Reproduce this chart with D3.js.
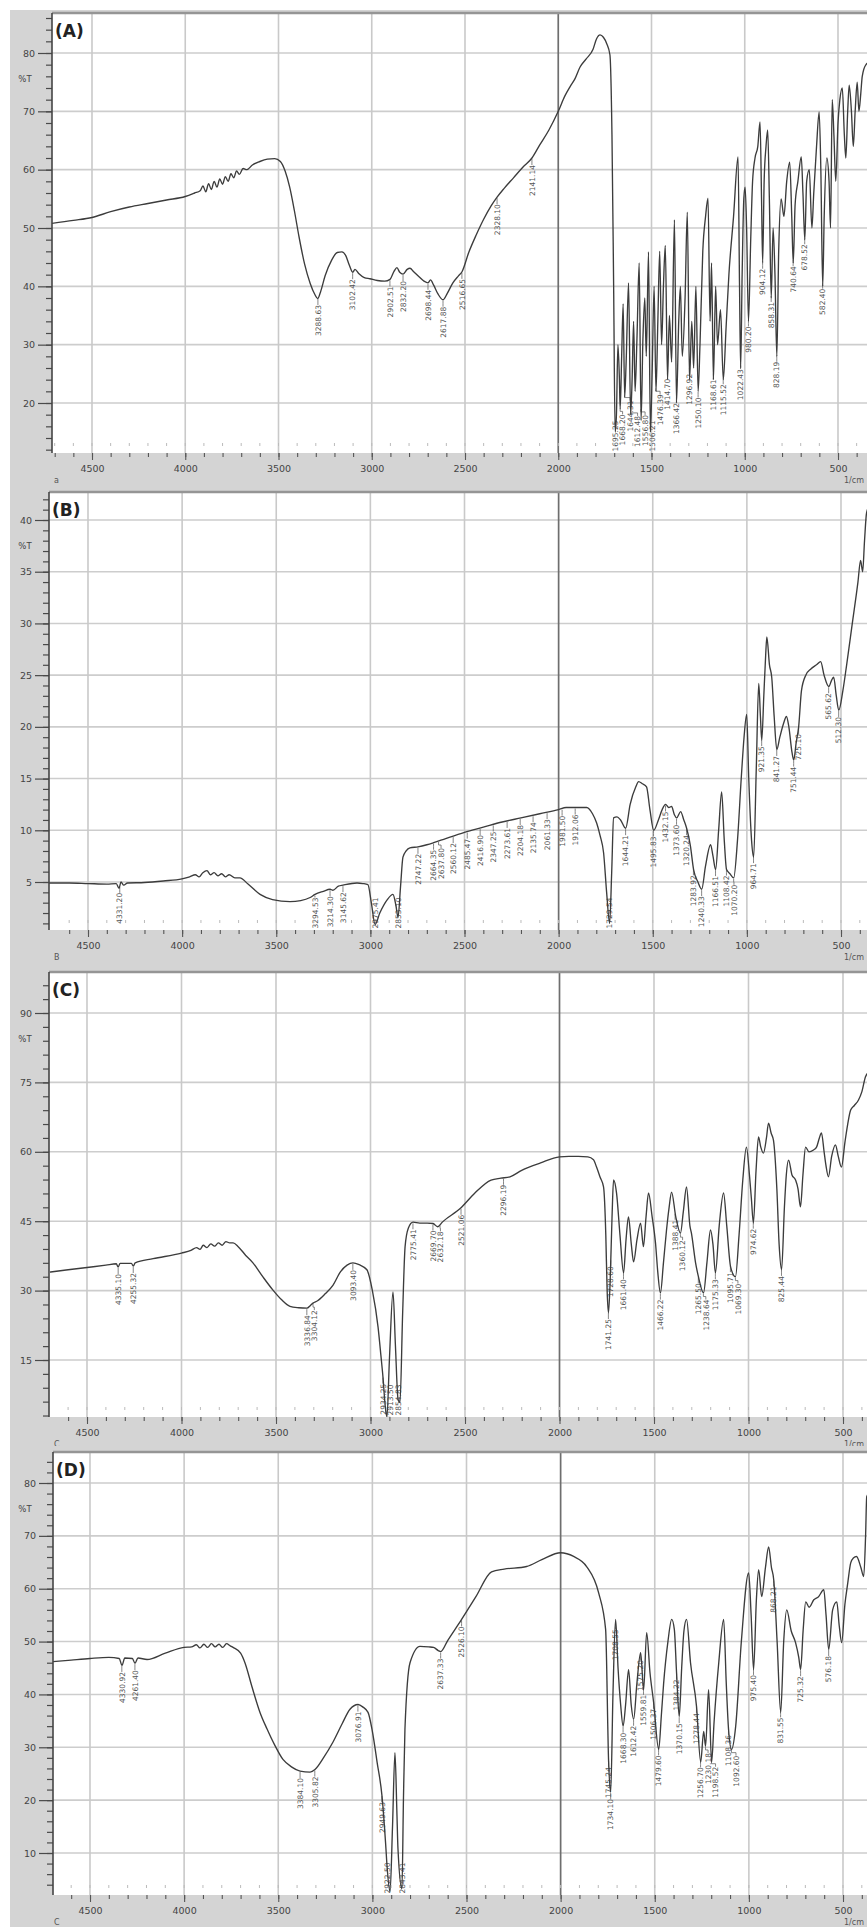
<!DOCTYPE html>
<html><head><meta charset="utf-8">
<script src="https://cdn.jsdelivr.net/npm/d3@7"></script>
<style>
body{margin:0;background:#fff}
svg{display:block}
text{font-family:"DejaVu Sans","Liberation Sans",Arial,sans-serif}
</style>
</head><body><div id="chart"></div>
<script>
// ---------------- DATA ----------------
const xTicks = [4500, 4000, 3500, 3000, 2500, 2000, 1500, 1000, 500];
const yTicksA = [20, 30, 40, 50, 60, 70, 80];
const yTicksB = [5, 10, 15, 20, 25, 30, 35, 40];
const yTicksC = [15, 30, 45, 60, 75, 90];
const yTicksD = [10, 20, 30, 40, 50, 60, 70, 80];
const panelNames = ["(A)", "(B)", "(C)", "(D)"];
const cornerLetters = ["a", "B", "C", "C"];
const unitLabel = "1/cm";
const yAxisTitle = "%T";

// spectra: [wavenumber (1/cm), %T]
const spectrumA = [
[4715,50.8],[4600,51.3],[4500,51.8],[4400,52.8],[4300,53.6],[4200,54.2],[4100,54.8],[4000,55.4],[3950,56.0],[3920,56.4],
[3905,57.2],[3890,56.2],[3875,57.6],[3860,56.6],[3845,58.0],[3830,57.0],[3815,58.4],[3800,57.5],[3785,58.8],[3770,58.0],
[3755,59.3],[3740,58.6],[3725,59.8],[3710,59.2],[3690,60.2],[3670,60.0],[3640,60.8],[3600,61.4],[3560,61.8],[3520,61.9],
[3490,61.4],[3465,59.8],[3440,57.0],[3415,53.0],[3390,48.5],[3360,43.8],[3330,40.5],[3305,38.6],[3290,37.9],[3275,39.0],
[3250,41.8],[3215,44.5],[3185,45.8],[3160,45.9],[3140,45.3],[3120,43.6],[3102,42.4],[3090,42.9],[3070,42.2],[3040,41.5],
[3010,41.3],[2970,41.0],[2930,40.9],[2902,41.2],[2880,42.6],[2865,43.2],[2850,42.4],[2832,42.1],[2810,42.9],[2795,43.1],
[2775,42.5],[2745,41.6],[2720,40.9],[2698,40.6],[2685,41.1],[2668,40.2],[2645,38.7],[2618,37.7],[2595,38.8],[2565,40.6],
[2535,41.8],[2516,42.5],[2480,45.8],[2440,48.8],[2400,51.5],[2360,53.8],[2328,55.3],[2290,56.8],[2240,58.6],[2190,60.4],
[2141,62.0],[2100,64.2],[2050,66.8],[2000,70.0],[1965,72.6],[1937,74.2],[1910,75.6],[1883,77.6],[1850,79.0],[1814,80.6],
[1795,82.4],[1776,83.1],[1758,82.7],[1740,81.6],[1723,79.7],[1712,66],[1703,40],[1695,15],[1688,18],[1680,30],
[1672,24],[1668,19],[1660,28],[1652,37],[1644,21],[1636,27],[1623,40.6],[1612,18],[1604,24],[1596,34],
[1588,22],[1578,31],[1566,44],[1556,17],[1546,31],[1536,38],[1528,28],[1516,45.9],[1506,15],[1496,26],
[1486,40],[1476,22],[1466,34],[1456,46],[1446,30],[1436,40],[1426,47],[1414,24],[1404,35],[1392,27],
[1377,51.4],[1366,20],[1354,34],[1345,40],[1335,28],[1320,38],[1308,52.7],[1296,24],[1284,34],[1274,26],
[1262,40],[1250,22],[1240,30],[1225,46],[1210,52],[1197,55.1],[1186,34],[1178,44],[1168,24],[1156,40],
[1146,30],[1130,36],[1115,24],[1100,33],[1085,42],[1060,52],[1036,62.2],[1028,40],[1022,26],[1014,42],
[1005,55],[998,57],[990,50],[980,34],[968,48],[958,58],[945,62],[930,64],[918,68.2],[910,55],
[904,44],[896,58],[886,64],[877,66.8],[868,55],[858,38],[848,50],[838,42],[828,28],[818,46],
[805,55],[790,52],[775,58],[759,61.3],[748,52],[740,44],[730,54],[715,58],[697,62.2],[688,56],
[678,48],[668,58],[654,60],[640,50],[630,56],[615,64],[601,69.9],[592,60],[582,40],[574,52],
[560,62],[548,58],[540,50],[531,72],[522,66],[512,58],[500,68],[490,72],[477,74],[466,66],
[458,62],[448,70],[440,74.5],[428,70],[418,64],[408,70],[397,75],[388,70],[378,73],[370,76],[350,78],[300,79]
];
const spectrumB = [
[4707,4.9],[4600,4.9],[4500,4.85],[4400,4.8],[4350,4.85],[4335,4.4],[4325,5.0],[4310,4.7],[4290,4.9],[4200,4.95],
[4100,5.1],[4001,5.3],[3960,5.5],[3930,5.7],[3910,5.5],[3890,5.9],[3868,6.1],[3850,5.7],[3830,5.9],[3810,5.6],
[3790,5.8],[3770,5.5],[3750,5.7],[3720,5.4],[3693,5.4],[3650,4.8],[3586,3.8],[3520,3.3],[3427,3.1],[3370,3.2],
[3320,3.5],[3294,3.8],[3250,4.1],[3214,4.3],[3199,4.2],[3170,4.6],[3145,4.7],[3071,4.9],[3040,4.85],[3013,4.75],
[2995,3.0],[2975,0.9],[2950,2.0],[2910,3.3],[2880,3.8],[2865,2.8],[2853,1.6],[2840,4.5],[2827,7.4],[2810,8.0],
[2790,8.3],[2747,8.4],[2700,8.6],[2664,8.8],[2600,9.2],[2500,9.8],[2400,10.3],[2300,10.8],[2200,11.2],[2100,11.6],
[2000,12.0],[1960,12.2],[1920,12.2],[1851,12.2],[1820,11.6],[1798,10.7],[1780,9.5],[1761,7.8],[1745,4.0],[1729,1.0],
[1718,6.0],[1708,11.2],[1690,11.3],[1671,11.0],[1644,10.2],[1620,12.5],[1590,14.2],[1575,14.7],[1555,14.5],[1533,14.2],
[1515,12.0],[1495,10.0],[1470,11.0],[1450,12.0],[1432,12.5],[1415,12.2],[1400,12.3],[1385,11.5],[1373,11.2],[1352,11.8],
[1335,11.0],[1320,10.2],[1300,8.5],[1283,6.2],[1260,5.0],[1240,4.3],[1220,6.5],[1193,8.6],[1180,7.5],[1166,6.2],
[1150,10.0],[1134,13.7],[1120,9.0],[1108,6.2],[1090,5.8],[1070,5.4],[1050,9.0],[1030,15.0],[1015,19.0],[1001,21.2],
[990,15.0],[975,9.0],[964,7.4],[950,16.0],[937,24.2],[928,21.0],[921,18.7],[910,23.0],[900,27.0],[894,28.7],
[880,26.0],[868,24.8],[855,21.0],[841,17.8],[825,19.0],[804,20.4],[790,21.0],[777,20.0],[760,17.5],[751,16.8],
[738,18.5],[725,20.0],[710,23.5],[687,25.0],[660,25.6],[630,26.0],[608,26.3],[590,25.0],[565,23.9],[550,24.5],
[539,24.8],[525,23.0],[512,21.6],[490,23.5],[470,26.0],[440,30.0],[410,34.0],[396,36.1],[385,35.0],[375,38.0],[364,40.7],[330,42]
];
const spectrumC = [
[4696,34.0],[4600,34.5],[4500,35.0],[4400,35.5],[4345,35.8],[4335,35.1],[4325,35.9],[4265,35.9],[4255,35.3],[4245,36.0],
[4150,36.9],[4000,38.1],[3950,38.7],[3920,39.3],[3902,38.9],[3885,39.8],[3865,39.3],[3845,40.1],[3825,39.6],[3805,40.3],
[3785,39.8],[3765,40.6],[3745,40.3],[3727,40.3],[3700,39.5],[3660,37.6],[3622,36.0],[3570,33.0],[3516,30.1],[3470,28.0],
[3426,26.6],[3380,26.3],[3336,26.2],[3318,26.8],[3304,27.3],[3280,27.8],[3240,29.3],[3198,31.2],[3160,34.0],[3124,35.5],
[3093,36.0],[3060,35.6],[3019,34.5],[2990,30.0],[2960,22.1],[2945,16.0],[2934,11.3],[2922,5.0],[2913,2.7],[2900,15.0],
[2881,29.7],[2868,18.0],[2854,6.4],[2844,5.8],[2830,25.0],[2817,39.5],[2800,43.5],[2775,44.8],[2740,44.6],[2700,44.6],
[2669,44.5],[2645,43.8],[2620,44.8],[2521,47.9],[2450,51.0],[2362,53.9],[2310,54.3],[2262,54.6],[2200,56.0],[2100,57.6],
[2000,58.9],[1950,59.0],[1900,59.0],[1850,58.9],[1820,58.3],[1804,56.7],[1785,54.5],[1767,52.4],[1755,42.0],[1748,30.0],
[1741,25.2],[1732,32.0],[1722,46.0],[1714,53.9],[1698,51.0],[1680,42.0],[1661,33.8],[1648,41.0],[1635,45.9],[1620,40.0],
[1608,36.2],[1590,41.0],[1571,44.6],[1556,39.5],[1542,46.0],[1529,51.1],[1510,46.0],[1492,40.3],[1480,34.0],[1466,29.5],
[1450,36.0],[1434,43.0],[1420,48.0],[1407,51.3],[1385,46.0],[1360,42.4],[1345,47.0],[1328,52.4],[1310,44.0],[1302,42.4],
[1280,36.0],[1265,33.0],[1238,29.5],[1220,36.0],[1201,43.1],[1188,40.0],[1175,33.8],[1155,44.0],[1132,51.1],[1115,44.0],
[1095,35.2],[1069,33.0],[1050,42.0],[1030,54.0],[1011,61.0],[995,55.0],[985,50.0],[974,44.6],[960,56.0],[947,63.2],
[935,61.0],[921,59.7],[905,63.0],[894,66.2],[880,64.0],[868,62.5],[850,52.0],[838,40.0],[825,34.5],[810,48.0],
[800,55.0],[788,58.2],[770,55.0],[751,53.9],[738,52.0],[725,48.1],[712,55.0],[698,61.0],[680,60.0],[656,60.4],
[640,61.0],[625,63.0],[614,64.1],[600,60.0],[590,57.0],[577,54.6],[560,59.0],[540,61.5],[525,59.0],[508,56.7],
[490,62.0],[475,66.0],[460,69.0],[440,70.0],[418,71.2],[400,73.0],[381,76.2],[370,77.0],[330,78]
];
const spectrumD = [
[4697,46.2],[4600,46.5],[4500,46.8],[4400,47.0],[4345,46.8],[4330,45.5],[4315,46.9],[4275,46.8],[4261,45.9],[4245,46.9],
[4197,46.6],[4100,47.8],[4001,48.9],[3960,49.0],[3935,49.4],[3916,48.8],[3895,49.5],[3875,48.9],[3855,49.6],[3835,49.0],
[3815,49.5],[3795,48.9],[3775,49.6],[3755,49.2],[3740,48.9],[3700,47.8],[3677,46.0],[3640,41.5],[3597,36.6],[3560,33.5],
[3520,30.5],[3475,27.7],[3430,26.3],[3384,25.5],[3331,25.3],[3305,25.8],[3260,28.0],[3209,31.0],[3160,34.5],[3119,37.2],
[3076,38.1],[3050,37.6],[3023,36.6],[3000,33.0],[2975,27.2],[2949,20.8],[2930,12.0],[2922,7.5],[2906,2.7],[2893,15.0],
[2880,29.0],[2870,18.0],[2864,10.8],[2843,3.2],[2835,20.0],[2827,33.4],[2800,46.0],[2747,49.1],[2700,49.0],[2675,48.9],
[2650,48.3],[2637,48.1],[2600,50.2],[2526,54.2],[2450,58.5],[2367,63.2],[2300,63.7],[2181,64.2],[2100,65.5],[2000,66.8],
[1931,66.1],[1862,64.2],[1798,59.2],[1761,52.3],[1745,27.2],[1734,21.5],[1722,40.0],[1708,54.2],[1695,45.0],[1681,38.0],
[1668,34.0],[1655,38.0],[1639,44.7],[1625,38.0],[1612,35.3],[1595,42.0],[1575,47.9],[1559,40.9],[1543,51.7],[1525,44.0],
[1506,38.5],[1479,29.6],[1465,36.0],[1453,42.0],[1430,50.0],[1410,54.2],[1396,52.3],[1384,44.0],[1370,35.8],[1357,45.0],
[1345,52.0],[1331,54.2],[1310,46.0],[1278,37.7],[1256,27.2],[1240,33.0],[1230,30.2],[1214,40.9],[1198,27.2],[1185,34.7],
[1160,46.0],[1134,54.2],[1120,42.0],[1108,33.4],[1092,29.6],[1070,34.0],[1040,50.0],[1001,63.0],[988,55.0],[975,44.7],
[960,58.0],[948,63.6],[932,58.5],[912,64.0],[895,67.9],[880,64.0],[868,61.7],[850,50.0],[831,36.6],[815,50.0],
[799,56.0],[775,52.0],[752,49.8],[735,47.0],[725,44.7],[712,52.0],[698,57.5],[680,56.5],[655,57.9],[630,58.5],
[602,59.8],[590,55.0],[576,48.5],[555,56.0],[533,57.5],[520,53.0],[507,49.8],[490,57.0],[475,61.0],[459,64.9],
[445,65.8],[428,66.1],[405,64.0],[390,62.3],[380,70.0],[374,77.4],[340,79]
];

// peak-pick labels (wavenumber, 1/cm)
const peaksA = [3288.63,3102.42,2902.51,2832.20,2698.44,2617.88,2516.65,2328.10,2141.14,1695.25,1668.20,1644.31,1612.48,1556.80,1506.21,1476.39,1414.70,1366.42,1296.92,1250.10,1168.61,1115.52,1022.43,980.20,904.12,858.31,828.19,740.64,678.52,582.40];
const peaksB = [4331.20,3294.53,3214.30,3145.62,2975.41,2853.10,2747.22,2664.35,2637.80,2560.12,2485.47,2416.90,2347.25,2273.61,2204.18,2135.74,2061.33,1981.50,1912.06,1729.54,1644.21,1495.83,1432.15,1373.60,1320.24,1283.92,1240.33,1166.51,1108.42,1070.20,964.71,921.35,841.27,751.44,725.10,565.62,512.30];
const peaksC = [4335.10,4255.32,3336.84,3304.12,3093.40,2934.25,2913.50,2854.83,2775.41,2669.70,2632.18,2521.06,2296.19,1741.25,1728.60,1661.40,1466.22,1388.41,1360.12,1265.50,1238.64,1175.33,1095.71,1069.30,974.62,825.44];
const peaksD = [4330.92,4261.40,3384.10,3305.82,3076.91,2949.63,2922.50,2843.41,2637.33,2526.10,1745.24,1734.10,1708.55,1668.30,1612.42,1575.20,1559.81,1506.37,1479.60,1384.22,1370.15,1278.44,1256.70,1230.18,1198.52,1108.36,1092.60,975.40,868.21,831.55,725.32,576.18];

// ---------------- LAYOUT ----------------
const W = 867, H = 1927;
const layouts = [
 {grayTop:10,  grayBottom:490,  top:13,   bottom:453,  left:52, x0:92, x1:838, yp:[403,53],   minor:2},
 {grayTop:490, grayBottom:966,  top:492,  bottom:930,  left:49, x0:88, x1:841, yp:[882,520],  minor:1},
 {grayTop:966, grayBottom:1446, top:972,  bottom:1417, left:49, x0:87, x1:843, yp:[1360,1013],minor:3},
 {grayTop:1446,grayBottom:1927, top:1452, bottom:1895, left:53, x0:90, x1:843, yp:[1853,1483],minor:2}
];
const spectra = [spectrumA, spectrumB, spectrumC, spectrumD];
const yTickSets = [yTicksA, yTicksB, yTicksC, yTicksD];
const peakSets = [peaksA, peaksB, peaksC, peaksD];

const svg = d3.select("#chart").append("svg").attr("width", W).attr("height", H);
svg.append("rect").attr("width", W).attr("height", H).attr("fill", "#fff");
const defs = svg.append("defs");

function interp(spec, w) {
  for (let i = 0; i < spec.length - 1; i++) {
    const a = spec[i], b = spec[i + 1];
    if (w <= a[0] && w >= b[0]) {
      const t = (a[0] - w) / (a[0] - b[0]);
      return a[1] + t * (b[1] - a[1]);
    }
  }
  return spec[spec.length - 1][1];
}

layouts.forEach((L, pi) => {
  const yTicks = yTickSets[pi];
  const spec = spectra[pi];
  const x = d3.scaleLinear().domain([xTicks[0], xTicks[xTicks.length - 1]]).range([L.x0, L.x1]);
  const y = d3.scaleLinear().domain([yTicks[0], yTicks[yTicks.length - 1]]).range(L.yp);
  const g = svg.append("g");

  // panel background
  g.append("rect").attr("x", 10).attr("y", L.grayTop).attr("width", W - 10)
    .attr("height", L.grayBottom - L.grayTop).attr("fill", "#d4d4d4");
  g.append("rect").attr("x", L.left).attr("y", L.top).attr("width", W - L.left)
    .attr("height", L.bottom - L.top).attr("fill", "#fff");

  // grid
  const grid = g.append("g");
  grid.selectAll("line.h").data(yTicks).join("line")
    .attr("x1", L.left).attr("x2", W).attr("y1", d => y(d)).attr("y2", d => y(d))
    .attr("stroke", "#cdcdcd").attr("stroke-width", 1.6);
  grid.selectAll("line.v").data(xTicks).join("line")
    .attr("x1", d => x(d)).attr("x2", d => x(d)).attr("y1", L.top).attr("y2", L.bottom)
    .attr("stroke", d => d === 2000 ? "#6e6e6e" : "#c9c9c9")
    .attr("stroke-width", d => d === 2000 ? 1.7 : 1.6);

  // clip
  const cid = "clip" + pi;
  defs.append("clipPath").attr("id", cid).append("rect")
    .attr("x", L.left).attr("y", L.top).attr("width", W - L.left).attr("height", L.bottom - L.top);
  const plot = g.append("g").attr("clip-path", `url(#${cid})`);

  // peak labels
  const fs = 7.5;
  const items = peakSets[pi].map(w => {
    const t = w.toFixed(2);
    return {w, text: t, xp: x(w), yp: y(interp(spec, w)), len: t.length * 4.35};
  }).sort((a, b) => a.xp - b.xp);
  const placed = [];
  items.forEach(it => {
    let top = it.yp + 7;
    if (top + it.len > L.bottom - 2) top = L.bottom - 2 - it.len;
    let xl = it.xp;
    let moved = true, guard = 0;
    while (moved && guard < 60) {
      moved = false; guard++;
      for (const p of placed) {
        const overlapY = !(top + it.len < p.top - 1 || top > p.top + p.len + 1);
        if (overlapY && Math.abs(p.xl - xl) < 7.5) { xl = p.xl + 7.5; moved = true; }
      }
    }
    it.xl = xl; it.top = top; placed.push(it);
  });
  const lab = plot.append("g");
  items.forEach(it => {
    let e = it.top - 3;
    if (e < it.yp + 1) e = it.yp + 1;
    lab.append("path")
      .attr("d", `M${it.xp},${it.yp + 1}V${e}H${it.xl}V${Math.max(it.top, e)}`)
      .attr("fill", "none").attr("stroke", "#666").attr("stroke-width", 0.8);
    lab.append("text")
      .attr("transform", `translate(${it.xl + 2.7},${it.top}) rotate(-90)`)
      .attr("text-anchor", "end").attr("font-size", fs).attr("fill", "#555")
      .text(it.text);
  });

  // spectrum
  const line = d3.line().x(d => x(d[0])).y(d => y(d[1])).curve(d3.curveMonotoneX);
  plot.append("path").datum(spec).attr("d", line)
    .attr("fill", "none").attr("stroke", "#3c3c3c").attr("stroke-width", 1.35)
    .attr("stroke-linejoin", "round");

  // top border
  g.append("line").attr("x1", L.left).attr("x2", W).attr("y1", L.top).attr("y2", L.top)
    .attr("stroke", "#959595").attr("stroke-width", 2.5);

  // y axis
  const yMin = y.invert(L.bottom), yMax = y.invert(L.top);
  const minors = d3.range(Math.ceil(yMin / L.minor) * L.minor, yMax, L.minor);
  const yMinor = g.append("g").attr("transform", `translate(${L.left},0)`)
    .call(d3.axisLeft(y).tickValues(minors).tickSize(6).tickFormat(""));
  const yMajor = g.append("g").attr("transform", `translate(${L.left},0)`)
    .call(d3.axisLeft(y).tickValues(yTicks).tickSize(14).tickPadding(3).tickFormat(d3.format("d")));
  [yMinor, yMajor].forEach(a => {
    a.select(".domain").remove();
    a.selectAll("line").attr("stroke", "#4a4a4a").attr("stroke-width", 1.2);
    a.selectAll("text").attr("font-size", 9.5).attr("fill", "#444");
  });
  g.append("line").attr("x1", L.left).attr("x2", L.left).attr("y1", L.top).attr("y2", L.bottom)
    .attr("stroke", "#444").attr("stroke-width", 1.6);
  g.append("text").attr("x", 25).attr("y", y(yTicks[yTicks.length - 1]) + 26)
    .attr("text-anchor", "middle").attr("dominant-baseline", "middle")
    .attr("font-size", 8.5).attr("fill", "#444").text(yAxisTitle);

  // x axis
  const xMinorVals = d3.range(300, 4800, 100).filter(v => x(v) > L.left + 2 && x(v) < W);
  const xMinor = g.append("g").attr("transform", `translate(0,${L.bottom})`)
    .call(d3.axisBottom(x).tickValues(xMinorVals).tickSize(4).tickFormat(""));
  const xMajor = g.append("g").attr("transform", `translate(0,${L.bottom})`)
    .call(d3.axisBottom(x).tickValues(xTicks).tickSize(7).tickPadding(5).tickFormat(d3.format("d")));
  [xMinor, xMajor].forEach(a => {
    a.select(".domain").remove();
    a.selectAll("line").attr("stroke", "#555").attr("stroke-width", 1.1);
    a.selectAll("text").attr("font-size", 9.5).attr("fill", "#444");
  });
  // faint inner ticks
  g.append("g").selectAll("line").data(xMinorVals).join("line")
    .attr("x1", d => x(d)).attr("x2", d => x(d)).attr("y1", L.bottom - 10).attr("y2", L.bottom - 7)
    .attr("stroke", "#bbb").attr("stroke-width", 1);

  g.append("text").attr("x", 844).attr("y", L.bottom + 30).attr("font-size", 8).attr("fill", "#555").text(unitLabel);
  g.append("text").attr("x", 54).attr("y", L.bottom + 30).attr("font-size", 8).attr("fill", "#555").text(cornerLetters[pi]);

  // panel name
  g.append("text").attr("x", L.left + 3).attr("y", L.top + 24)
    .attr("font-size", 17).attr("font-weight", "bold").attr("fill", "#222").text(panelNames[pi]);
});
</script>
</body></html>
